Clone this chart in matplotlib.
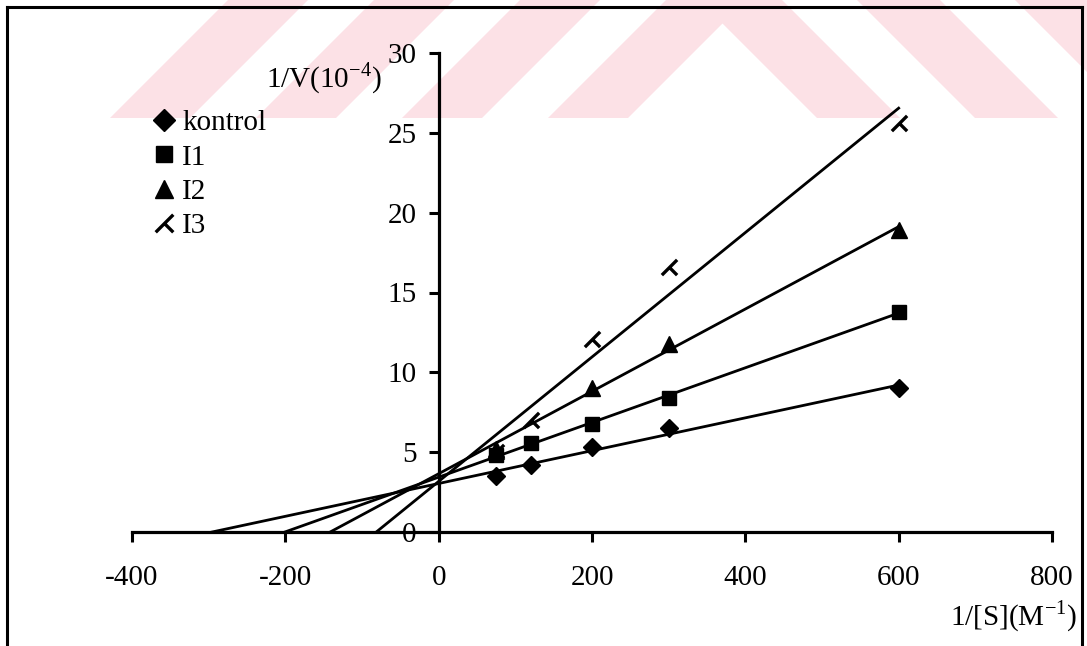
import numpy as np
import matplotlib
matplotlib.use("Agg")
import matplotlib.pyplot as plt
from matplotlib.path import Path
from matplotlib.lines import Line2D
from matplotlib.patches import Polygon

# ---------------- data ----------------
x_kontrol = [75, 120, 200, 300, 600]
y_kontrol = [3.5, 4.2, 5.3, 6.5, 9.0]
x_i1 = [75, 120, 200, 300, 600]
y_i1 = [4.8, 5.6, 6.75, 8.4, 13.8]
x_i2 = [75, 200, 300, 600]
y_i2 = [5.2, 9.0, 11.8, 18.9]
x_i3 = [75, 120, 200, 300, 600]
y_i3 = [5.0, 7.0, 12.1, 16.6, 25.6]
series_names = ["kontrol", "I1", "I2", "I3"]
x_ticks = [-400, -200, 0, 200, 400, 600, 800]
y_ticks = [0, 5, 10, 15, 20, 25, 30]
x_label = "1/[S](M$^{\\mathregular{-1}}$)"
y_label = "1/V(10$^{\\mathregular{-4}}$)"

# ---------------- style ----------------
plt.rcParams["font.family"] = ["Liberation Serif", "DejaVu Serif"]
plt.rcParams["mathtext.fontset"] = "custom"
plt.rcParams["mathtext.rm"] = "Liberation Serif"
plt.rcParams["axes.unicode_minus"] = False
FS = 21

W, H = 1087, 646
fig = plt.figure(figsize=(W / 100, H / 100), dpi=100)


def fx(px):
    return px / W


def fy(py):
    return 1 - py / H


# faint watermark stripes in the top band (scan background)
band = 118
wm_color = "#fce1e6"
for x0 in [110, 256, 402, 548]:
    w = 80
    pts = [(x0, band), (x0 + w, band), (x0 + w + band, 0), (x0 + band, 0)]
    fig.add_artist(Polygon([(fx(a), fy(b)) for a, b in pts], closed=True,
                           transform=fig.transFigure, facecolor=wm_color,
                           edgecolor="none", zorder=-5))
for x0 in [817, 975, 1133]:
    w = 83
    pts = [(x0, band), (x0 + w, band), (x0 + w - band, 0), (x0 - band, 0)]
    fig.add_artist(Polygon([(fx(a), fy(b)) for a, b in pts], closed=True,
                           transform=fig.transFigure, facecolor=wm_color,
                           edgecolor="none", zorder=-5))

# outer frame
for (xa, ya), (xb, yb) in [((7, 7), (7, 660)), ((7, 7), (1082, 7)), ((1082, 7), (1082, 660))]:
    fig.add_artist(Line2D([fx(xa), fx(xb)], [fy(ya), fy(yb)], transform=fig.transFigure,
                          color="black", lw=2.2, solid_capstyle="projecting", zorder=5))

ax = fig.add_axes([fx(132), fy(532), fx(1052) - fx(132), fy(53) - fy(532)])
ax.set_zorder(2)
ax.patch.set_alpha(0)
ax.set_xlim(-400, 800)
ax.set_ylim(0, 30)
ax.spines["top"].set_visible(False)
ax.spines["right"].set_visible(False)
ax.spines["left"].set_position(("data", 0))
for s in ["left", "bottom"]:
    ax.spines[s].set_linewidth(2.3)
ax.set_xticks(x_ticks)
ax.set_yticks(y_ticks)
ax.tick_params(axis="x", direction="out", length=7, width=2.2, pad=17, labelsize=FS)
ax.tick_params(axis="y", direction="out", length=7, width=2.2, pad=9, labelsize=FS)

i3_marker = Path([(-1, -1), (1, 1), (0, 0), (1, -1)],
                 [Path.MOVETO, Path.LINETO, Path.MOVETO, Path.LINETO])

series = [
    (x_kontrol, y_kontrol, dict(marker="D", ms=9.5, mfc="black", mec="black")),
    (x_i1, y_i1, dict(marker="s", ms=10.5, mfc="black", mec="black")),
    (x_i2, y_i2, dict(marker="^", ms=11.5, mfc="black", mec="black")),
    (x_i3, y_i3, dict(marker=i3_marker, ms=11, mfc="none", mec="black", mew=2.4)),
]

handles = []
for name, (xs, ys, mk) in zip(series_names, series):
    xs = np.asarray(xs, float)
    ys = np.asarray(ys, float)
    m, b = np.polyfit(xs, ys, 1)
    x_int = -b / m
    xl = np.array([x_int, xs.max()])
    ax.plot(xl, m * xl + b, color="black", lw=2.0, zorder=2, clip_on=False)
    h, = ax.plot(xs, ys, ls="none", zorder=3, label=name, clip_on=False, **mk)
    handles.append(h)

leg = fig.legend(handles=handles, labels=series_names, loc="upper left",
                 bbox_to_anchor=(fx(153), fy(110)), frameon=False, fontsize=FS,
                 handlelength=0.75, handletextpad=0.25, labelspacing=0.27,
                 borderpad=0, borderaxespad=0, markerscale=1.15)
leg.set_zorder(3)

fig.text(fx(382), fy(87), y_label, ha="right", va="baseline", fontsize=FS, zorder=3)
fig.text(fx(1077), fy(625), x_label, ha="right", va="baseline", fontsize=FS, zorder=3)

fig.savefig("out.png", dpi=100)
